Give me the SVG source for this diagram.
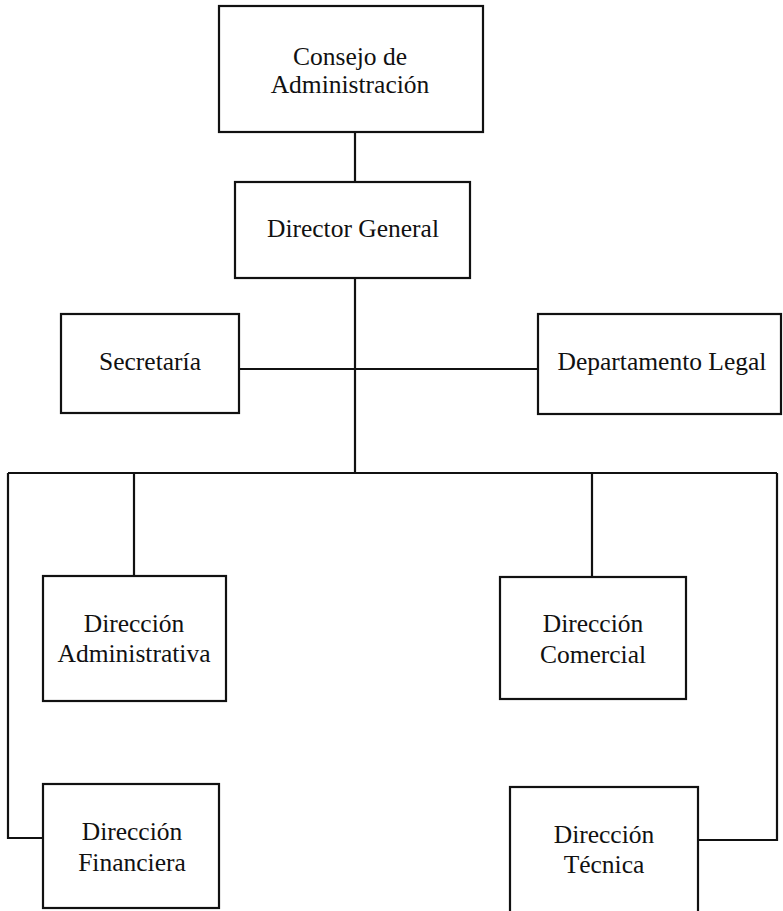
<svg xmlns="http://www.w3.org/2000/svg" width="783" height="911" viewBox="0 0 783 911">
<style>
.box{fill:#fff;stroke:#111;stroke-width:2.2}
.ln{fill:none;stroke:#111;stroke-width:2.2}
text{font-family:"Liberation Serif","Times New Roman",serif;font-size:25.5px;fill:#111;text-anchor:middle}
</style>
<rect width="783" height="911" fill="#fff"/>
<g id="connectors">
<path class="ln" d="M355,132 V182"/>
<path class="ln" d="M355,278 V473"/>
<path class="ln" d="M239,369 H538"/>
<path class="ln" d="M8,473 H777"/>
<path class="ln" d="M134,473 V576"/>
<path class="ln" d="M592,473 V577"/>
<path class="ln" d="M8,473 V838 H43"/>
<path class="ln" d="M777,473 V840 H698"/>
</g>
<g id="consejo">
<rect class="box" x="219" y="6" width="264" height="126"/>
<text x="350" y="65">Consejo de</text>
<text x="350" y="93">Administración</text>
</g>
<g id="director">
<rect class="box" x="235" y="182" width="235" height="96"/>
<text x="353" y="237">Director General</text>
</g>
<g id="secretaria">
<rect class="box" x="61" y="314" width="178" height="99"/>
<text x="150" y="370">Secretaría</text>
</g>
<g id="legal">
<rect class="box" x="538" y="314" width="243" height="100"/>
<text x="662" y="370">Departamento Legal</text>
</g>
<g id="administrativa">
<rect class="box" x="43" y="576" width="183" height="125"/>
<text x="134" y="632">Dirección</text>
<text x="134" y="662">Administrativa</text>
</g>
<g id="comercial">
<rect class="box" x="500" y="577" width="186" height="122"/>
<text x="593" y="632">Dirección</text>
<text x="593" y="663">Comercial</text>
</g>
<g id="financiera">
<rect class="box" x="43" y="784" width="176" height="124"/>
<text x="132" y="840">Dirección</text>
<text x="132" y="871">Financiera</text>
</g>
<g id="tecnica">
<rect class="box" x="510" y="787" width="188" height="130"/>
<text x="604" y="843">Dirección</text>
<text x="604" y="873">Técnica</text>
</g>
</svg>
